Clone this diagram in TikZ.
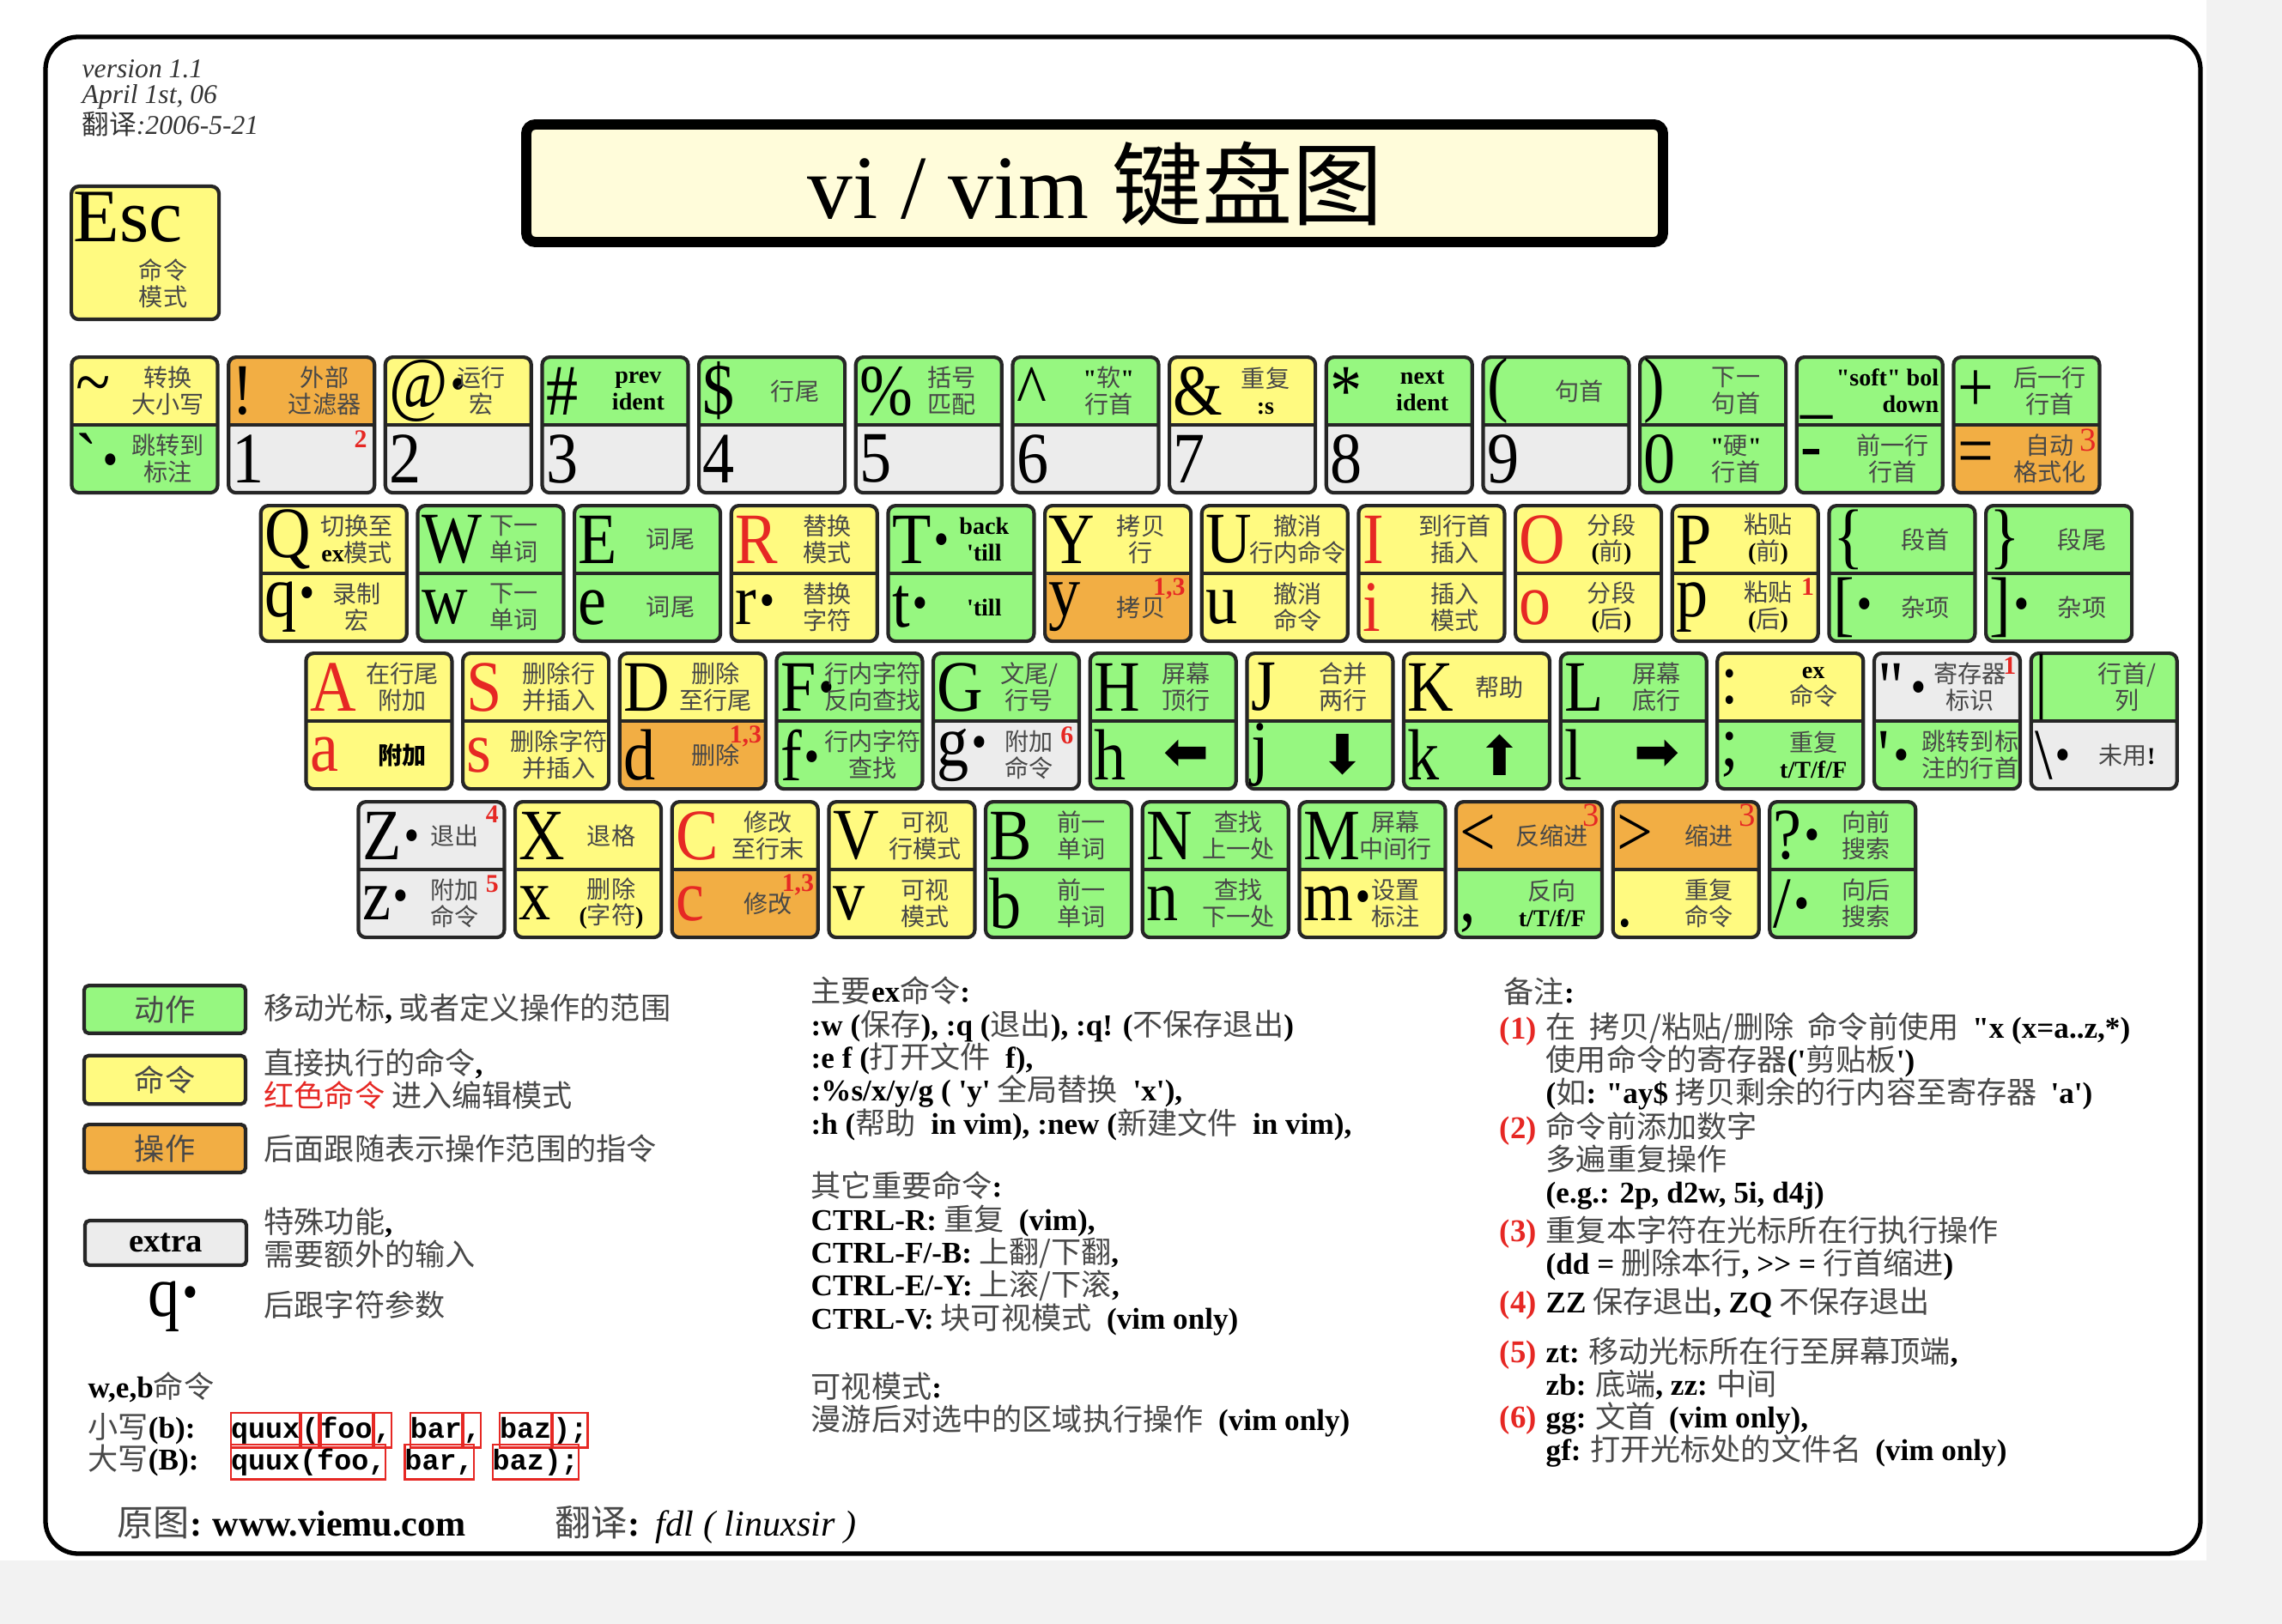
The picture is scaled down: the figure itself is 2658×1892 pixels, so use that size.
\documentclass[tikz,border=0pt]{standalone}
\usepackage{fontspec}
\setmainfont{Liberation Serif}
\setmonofont{Liberation Mono}
\newfontfamily\cjk{Noto Sans CJK SC}
\newfontfamily\symfont{DejaVu Sans}
\newfontfamily\glyphfont[FakeStretch=0.88]{Liberation Serif}
\usetikzlibrary{positioning}

\definecolor{keygreen}{RGB}{150,247,128}
\definecolor{keyyellow}{RGB}{255,250,128}
\definecolor{keyorange}{RGB}{242,174,68}
\definecolor{keygray}{RGB}{236,236,236}
\definecolor{keyred}{RGB}{230,40,36}
\definecolor{titlefill}{RGB}{255,252,218}
\definecolor{textgray}{RGB}{72,72,72}

\newcommand{\en}[1]{{\rmfamily\bfseries\color{black}#1}}
\newcommand{\rd}[1]{\textcolor{keyred}{#1}}
\newcommand{\argdot}{\textbf{\textperiodcentered}}
\newcommand{\qq}{\textquotedbl}
\newcommand{\q}{\textquotesingle}
\newcommand{\heavyarrow}[1]{{\symfont\fontsize{18}{18}\selectfont\color{black}#1}}

\tikzset{
  keycap/.style={draw=black!85, line width=1.2pt, rounded corners=2.5pt,
    minimum width=1.7cm, minimum height=1.58cm, inner sep=0pt, anchor=north west},
  glyph/.style={anchor=west, inner sep=0pt, font=\glyphfont\fontsize{24}{24}\selectfont},
  keylabel/.style={inner sep=0pt, align=center, text=textgray,
    font=\cjk\fontsize{8}{8.8}\selectfont},
  keynote/.style={anchor=north east, inner sep=0pt, text=keyred,
    font=\bfseries\fontsize{8.5}{8.5}\selectfont},
  bignote/.style={keynote, font=\fontsize{11}{11}\selectfont},
  legendbox/.style={draw=black!85, line width=1.2pt, rounded corners=1.5pt,
    minimum width=1.88cm, minimum height=0.52cm, text=textgray,
    font=\cjk\fontsize{10}{10}\selectfont},
  textblock/.style={anchor=base west, align=left, inner sep=0pt, text=textgray,
    font=\cjk\fontsize{10}{10.7}\selectfont},
  notenum/.style={anchor=base west, inner sep=0pt, text=keyred,
    font=\bfseries\fontsize{10.5}{10.5}\selectfont},
  codebox/.style={draw=keyred, line width=0.6pt, inner xsep=0pt, inner ysep=1.2pt,
    text height=1.55ex, text depth=0.45ex, font=\ttfamily\bfseries\fontsize{9.5}{9.5}\selectfont}
}

% #1 name, #2 position, #3 top fill, #4 top glyph, #5 top text,
% #6 bottom fill, #7 bottom glyph, #8 bottom text
\newcommand{\vkey}[8]{%
  \node[keycap, fill=#3, path picture={
      \fill[#6] (path picture bounding box.west) rectangle (path picture bounding box.south east);
      \draw[line width=1.2pt, black!85] (path picture bounding box.west) -- (path picture bounding box.east);}]
    (#1) at #2 {};
  \node[glyph] (#1-a) at ([xshift=0.06cm, yshift=0.395cm]#1.west) {#4};
  \node[keylabel] (#1-b) at ([xshift=1.14cm, yshift=0.395cm]#1.west) {#5};
  \node[glyph] (#1-c) at ([xshift=0.06cm, yshift=-0.395cm]#1.west) {#7};
  \node[keylabel] (#1-d) at ([xshift=1.14cm, yshift=-0.395cm]#1.west) {#8};
}

\begin{document}
\begin{tikzpicture}[x=0.1mm, y=-0.1mm]
\useasboundingbox (0,0) rectangle (2658,1892);
\fill[black!5] (2570,0) rectangle (2658,1892);
\fill[black!5] (0,1818) rectangle (2658,1892);

% frame and title
\draw[line width=1.5pt, rounded corners=0.38cm] (53,43) rectangle (2563,1810);
\node[anchor=north west, align=left, inner sep=0pt, text=black!80,
  font=\itshape\fontsize{9}{8.4}\selectfont] (version) at (95,69)
  {version 1.1\\April 1st, 06\\{\cjk 翻译}:2006-5-21};
\node[draw=black, line width=3.4pt, rounded corners=3pt, fill=titlefill,
  minimum width=13.24cm, minimum height=1.37cm] (title) at (1275,213.5) {};
\node[font=\fontsize{30}{30}\selectfont] (titletext) at (1276,214) {vi / vim {\cjk 键盘图}};

% Esc
\node[keycap, fill=keyyellow, minimum width=1.72cm, minimum height=1.55cm] (esc) at (81,215) {};
\node[glyph, anchor=north west, font=\rmfamily\fontsize{25}{25}\selectfont] (esc-a)
  at ([xshift=0.04cm, yshift=-0.08cm]esc.north west) {Esc};
\node[keylabel] (esc-b) at (190,330) {命令\\模式};

% number row
\vkey{ktilde}{(81.4,414)}{keyyellow}{\textasciitilde}{转换\\大小写}{keygreen}{\textasciigrave\argdot}{跳转到\\标注}
\vkey{kone}{(264.1,414)}{keyorange}{!}{外部\\过滤器}{keygray}{1}{}
\vkey{ktwo}{(446.7,414)}{keyyellow}{@\argdot}{运行\\宏}{keygray}{2}{}
\vkey{kthree}{(629.4,414)}{keygreen}{\#}{\en{prev}\\\en{ident}}{keygray}{3}{}
\vkey{kfour}{(812.0,414)}{keygreen}{\$}{行尾}{keygray}{4}{}
\vkey{kfive}{(994.7,414)}{keygreen}{\%}{括号\\匹配}{keygray}{5}{}
\vkey{ksix}{(1177.4,414)}{keygreen}{\textasciicircum}{\en{\qq}软\en{\qq}\\行首}{keygray}{6}{}
\vkey{kseven}{(1360.0,414)}{keyyellow}{\&}{重复\\\en{:s}}{keygray}{7}{}
\vkey{keight}{(1542.7,414)}{keygreen}{*}{\en{next}\\\en{ident}}{keygray}{8}{}
\vkey{knine}{(1725.3,414)}{keygreen}{(}{句首}{keygray}{9}{}
\vkey{kzero}{(1908.0,414)}{keygreen}{)}{下一\\句首}{keygreen}{0}{\en{\qq}硬\en{\qq}\\行首}
\vkey{kminus}{(2090.7,414)}{keygreen}{\_\vphantom{X}}{}{keygreen}{-}{前一行\\行首}
\vkey{kplus}{(2273.3,414)}{keygreen}{+}{后一行\\行首}{keyorange}{=}{自动\\格式化}
\node[keylabel, align=right, anchor=east] (kminus-soft) at ([xshift=-0.06cm, yshift=0.395cm]kminus.east)
  {\en{\qq soft\qq{} bol}\\\en{down}};

% qwerty row
\vkey{kq}{(301.7,587)}{keyyellow}{Q}{切换至\\\en{ex}模式}{keyyellow}{q\argdot}{录制\\宏}
\vkey{kw}{(484.4,587)}{keygreen}{W}{下一\\单词}{keygreen}{w}{下一\\单词}
\vkey{ke}{(667.0,587)}{keygreen}{E}{词尾}{keygreen}{e}{词尾}
\vkey{kr}{(849.7,587)}{keyyellow}{\rd{R}}{替换\\模式}{keyyellow}{r\argdot}{替换\\字符}
\vkey{kt}{(1032.3,587)}{keygreen}{T\argdot}{\en{back}\\\en{\q till}}{keygreen}{t\argdot}{\en{\q till}}
\vkey{ky}{(1215.0,587)}{keyyellow}{Y}{拷贝\\行}{keyorange}{y}{拷贝}
\vkey{ku}{(1397.7,587)}{keyyellow}{U}{撤消\\行内命令}{keyyellow}{u}{撤消\\命令}
\vkey{ki}{(1580.3,587)}{keyyellow}{\rd{I}}{到行首\\插入}{keyyellow}{\rd{i}}{插入\\模式}
\vkey{ko}{(1763.0,587)}{keyyellow}{\rd{O}}{分段\\\en{(}前\en{)}}{keyyellow}{\rd{o}}{分段\\\en{(}后\en{)}}
\vkey{kp}{(1945.6,587)}{keyyellow}{P}{粘贴\\\en{(}前\en{)}}{keyyellow}{p}{粘贴\\\en{(}后\en{)}}
\vkey{klbrace}{(2128.3,587)}{keygreen}{\{}{段首}{keygreen}{[\argdot}{杂项}
\vkey{krbrace}{(2311.0,587)}{keygreen}{\}}{段尾}{keygreen}{]\argdot}{杂项}

% home row
\vkey{ka}{(354.3,759)}{keyyellow}{\rd{A}}{在行尾\\附加}{keyyellow}{\rd{a}}{{\color{black}\bfseries 附加}}
\vkey{ks}{(537.0,759)}{keyyellow}{\rd{S}}{删除行\\并插入}{keyyellow}{\rd{s}}{删除字符\\并插入}
\vkey{kd}{(719.6,759)}{keyyellow}{D}{删除\\至行尾}{keyorange}{d}{删除}
\vkey{kf}{(902.3,759)}{keygreen}{F\argdot}{行内字符\\反向查找}{keygreen}{f\argdot}{行内字符\\查找}
\vkey{kg}{(1084.9,759)}{keygreen}{G}{文尾/\\行号}{keygray}{g\argdot}{附加\\命令}
\vkey{kh}{(1267.6,759)}{keygreen}{H}{屏幕\\顶行}{keygreen}{h}{\heavyarrow{⬅}}
\vkey{kj}{(1450.3,759)}{keyyellow}{J}{合并\\两行}{keygreen}{j}{\heavyarrow{⬇}}
\vkey{kk}{(1632.9,759)}{keyyellow}{K}{帮助}{keygreen}{k}{\heavyarrow{⬆}}
\vkey{kl}{(1815.6,759)}{keygreen}{L}{屏幕\\底行}{keygreen}{l}{\heavyarrow{➡}}
\vkey{kcolon}{(1998.2,759)}{keyyellow}{:}{\en{ex}\\命令}{keygreen}{;}{重复\\\en{t/T/f/F}}
\vkey{kquote}{(2180.9,759)}{keygray}{\qq\argdot}{寄存器\\标识}{keygreen}{\q\argdot}{跳转到标\\注的行首}
\vkey{kbar}{(2363.6,759)}{keygreen}{\textbar}{行首/\\列}{keygray}{\textbackslash\argdot}{未用\en{!}}

% bottom row
\vkey{kz}{(415.3,932)}{keygray}{Z\argdot}{退出}{keygray}{z\argdot}{附加\\命令}
\vkey{kx}{(598.0,932)}{keyyellow}{X}{退格}{keyyellow}{x}{删除\\\en{(}字符\en{)}}
\vkey{kc}{(780.6,932)}{keyyellow}{\rd{C}}{修改\\至行末}{keyorange}{\rd{c}}{修改}
\vkey{kv}{(963.3,932)}{keyyellow}{V}{可视\\行模式}{keyyellow}{v}{可视\\模式}
\vkey{kb}{(1145.9,932)}{keygreen}{B}{前一\\单词}{keygreen}{b}{前一\\单词}
\vkey{kn}{(1328.6,932)}{keygreen}{N}{查找\\上一处}{keygreen}{n}{查找\\下一处}
\vkey{km}{(1511.3,932)}{keygreen}{M}{屏幕\\中间行}{keyyellow}{m\argdot}{设置\\标注}
\vkey{kless}{(1693.9,932)}{keyorange}{<}{反缩进}{keygreen}{,\vphantom{X}}{反向\\\en{t/T/f/F}}
\vkey{kgreater}{(1876.6,932)}{keyorange}{>}{缩进}{keyyellow}{.\vphantom{X}}{重复\\命令}
\vkey{kquery}{(2059.2,932)}{keygreen}{?\argdot}{向前\\搜索}{keygreen}{/\argdot}{向后\\搜索}

% red footnote marks
\node[keynote] (kone-n) at ([xshift=-0.1cm, yshift=-0.06cm]kone.east) {2};
\node[bignote] (kplus-n) at ([xshift=-0.05cm, yshift=-0.04cm]kplus.east) {3};
\node[keynote] (ky-n) at ([xshift=-0.08cm, yshift=-0.05cm]ky.east) {1,3};
\node[keynote] (kp-n) at ([xshift=-0.06cm, yshift=-0.05cm]kp.east) {1};
\node[keynote] (kd-n) at ([xshift=-0.06cm, yshift=-0.05cm]kd.east) {1,3};
\node[keynote] (kg-n) at ([xshift=-0.08cm, yshift=-0.06cm]kg.east) {6};
\node[keynote] (kquote-n) at ([xshift=-0.06cm, yshift=-0.06cm]kquote.north east) {1};
\node[keynote] (kz-n1) at ([xshift=-0.08cm, yshift=-0.06cm]kz.north east) {4};
\node[keynote] (kz-n2) at ([xshift=-0.08cm, yshift=-0.06cm]kz.east) {5};
\node[keynote] (kc-n) at ([xshift=-0.06cm, yshift=-0.05cm]kc.east) {1,3};
\node[bignote] (kless-n) at ([xshift=-0.05cm, yshift=-0.04cm]kless.north east) {3};
\node[bignote] (kgreater-n) at ([xshift=-0.05cm, yshift=-0.04cm]kgreater.north east) {3};

% legend (multi-line blocks sit on the baseline of their last line)
\node[legendbox, fill=keygreen] (lg-move) at (192,1176) {动作};
\node[textblock] (lg-move-t) at (307,1187) {移动光标\en{,} 或者定义操作的范围};
\node[legendbox, fill=keyyellow] (lg-cmd) at (192,1258) {命令};
\node[textblock] (lg-cmd-t) at (307,1289) {直接执行的命令\en{,}\\\rd{红色命令} 进入编辑模式};
\node[legendbox, fill=keyorange] (lg-op) at (192,1338) {操作};
\node[textblock] (lg-op-t) at (307,1351) {后面跟随表示操作范围的指令};
\node[legendbox, fill=keygray, font=\bfseries\fontsize{11}{11}\selectfont, text=black] (lg-extra) at (193,1448) {extra};
\node[textblock] (lg-extra-t) at (307,1474) {特殊功能\en{,}\\需要额外的输入};
\node[glyph, anchor=center] (lg-arg) at (203,1522) {q\argdot};
\node[textblock] (lg-arg-t) at (307,1533) {后跟字符参数};

% w,e,b words
\node[textblock] (lg-web) at (102,1628) {\en{w,e,b}命令};
\node[textblock] (lg-lower) at (102,1675) {小写\en{(b):}};
\node[textblock] (lg-upper) at (102,1712) {大写\en{(B):}};
\node[codebox, anchor=base west] (lw1) at (268,1675) {quux};
\node[codebox, right=0pt of lw1] (lw2) {(};
\node[codebox, right=0pt of lw2] (lw3) {foo};
\node[codebox, right=0pt of lw3] (lw4) {,};
\node[codebox, right=0.2cm of lw4] (lw5) {bar};
\node[codebox, right=0pt of lw5] (lw6) {,};
\node[codebox, right=0.2cm of lw6] (lw7) {baz};
\node[codebox, right=0pt of lw7] (lw8) {);};
\node[codebox, anchor=base west] (uw1) at (268,1712) {quux(foo,};
\node[codebox, right=0.2cm of uw1] (uw2) {bar,};
\node[codebox, right=0.2cm of uw2] (uw3) {baz);};

% ex commands
\node[textblock, font=\cjk\fontsize{10}{10.9}\selectfont] (excmd) at (944,1321)
  {主要\en{ex}命令\en{:}\\
   \en{:w (}保存\en{), :q (}退出\en{), :q! (}不保存退出\en{)}\\
   \en{:e f (}打开文件\en{\ \ f),}\\
   \en{:\%s/x/y/g ( \q y\q} 全局替换\en{\ \ \q x\q),}\\
   \en{:h (}帮助\en{\ \ in vim), :new (}新建文件\en{\ \ in vim),}};
\node[textblock, font=\cjk\fontsize{10}{10.9}\selectfont] (othercmd) at (944,1548)
  {其它重要命令\en{:}\\
   \en{CTRL-R:} 重复\en{\ \ (vim),}\\
   \en{CTRL-F/-B:} 上翻/下翻\en{,}\\
   \en{CTRL-E/-Y:} 上滚/下滚\en{,}\\
   \en{CTRL-V:} 块可视模式\en{\ \ (vim only)}};
\node[textblock] (visual) at (944,1666)
  {可视模式\en{:}\\漫游后对选中的区域执行操作\en{\ \ (vim only)}};

% notes
\node[textblock] (notes) at (1751,1168) {备注\en{:}};
\node[notenum] (n1) at (1746,1210) {(1)};
\node[textblock] (n1-t) at (1800,1285)
  {在\ \ 拷贝/粘贴/删除\ \ 命令前使用\ \ \en{\qq x (x=a..z,*)}\\
   使用命令的寄存器\en{(\q}剪贴板\en{\q)}\\
   \en{(}如\en{: \qq ay\$} 拷贝剩余的行内容至寄存器\ \ \en{\q a\q)}};
\node[notenum] (n2) at (1746,1326) {(2)};
\node[textblock] (n2-t) at (1800,1401)
  {命令前添加数字\\多遍重复操作\\\en{(e.g.: 2p, d2w, 5i, d4j)}};
\node[notenum] (n3) at (1746,1446) {(3)};
\node[textblock] (n3-t) at (1800,1484)
  {重复本字符在光标所在行执行操作\\\en{(dd =} 删除本行\en{, {>}{>} =} 行首缩进\en{)}};
\node[notenum] (n4) at (1746,1529) {(4)};
\node[textblock] (n4-t) at (1800,1529) {\en{ZZ} 保存退出\en{, ZQ} 不保存退出};
\node[notenum] (n5) at (1746,1587) {(5)};
\node[textblock] (n5-t) at (1800,1625)
  {\en{zt:} 移动光标所在行至屏幕顶端\en{,}\\\en{zb:} 底端\en{, zz:} 中间};
\node[notenum] (n6) at (1746,1663) {(6)};
\node[textblock] (n6-t) at (1800,1701)
  {\en{gg:} 文首\ \ \en{(vim only),}\\\en{gf:} 打开光标处的文件名\ \ \en{(vim only)}};

% footer
\node[textblock, font=\cjk\fontsize{12}{12}\selectfont] (source) at (136,1789)
  {原图\en{:} \en{www.viemu.com}};
\node[textblock, font=\cjk\fontsize{12}{12}\selectfont] (translator) at (646,1789)
  {翻译\en{:}\ \ {\rmfamily\itshape\color{black}fdl ( linuxsir )}};

\end{tikzpicture}
\end{document}
